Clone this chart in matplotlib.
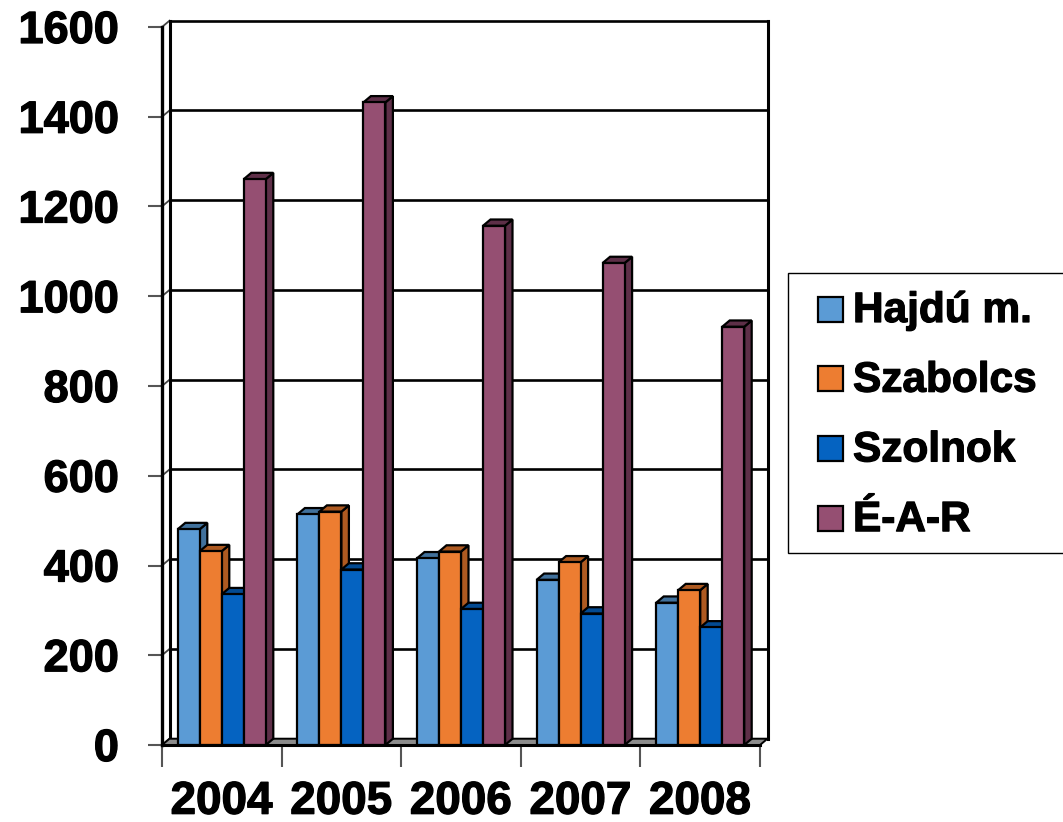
import matplotlib
matplotlib.use("Agg")
import matplotlib.pyplot as plt
import matplotlib.patheffects as pe
from matplotlib.patches import Rectangle, Polygon

plt.rcParams['font.family'] = ['Liberation Sans', 'DejaVu Sans']
plt.rcParams['font.weight'] = 'bold'

years = ['2004', '2005', '2006', '2007', '2008']
series = ['Hajdú m.', 'Szabolcs', 'Szolnok', 'É-A-R']
hajdu = [481, 514, 416, 368, 317]
szabolcs = [432, 520, 431, 407, 345]
szolnok = [336, 391, 303, 293, 262]
ear = [1261, 1432, 1157, 1074, 932]

front_colors = ['#5B9BD5', '#ED7D31', '#0563C1', '#954F72']
dark_colors = ['#41719C', '#AE5A21', '#034A91', '#5E2F48']

W, H = 1063, 822
fig = plt.figure(figsize=(W / 100, H / 100), dpi=100)
fig.patch.set_facecolor('white')

# a slight outline makes the bold labels look heavier
heavy = [pe.withStroke(linewidth=0.9, foreground='black')]

# plot area: front axis runs x 162..760 px, y 745 (0) .. 27 (1600) px
x0px, x1px, y0px, y1px = 162, 760, 745, 27
ax = fig.add_axes([x0px / W, (H - y0px) / H, (x1px - x0px) / W, (y0px - y1px) / H])
ax.set_xlim(-0.5, 4.5)
ax.set_ylim(0, 1600)
for s in ax.spines.values():
    s.set_visible(False)
ax.set_facecolor('none')

# depth offset of the fake 3d look, converted from pixels to data units
px_per_cat = (x1px - x0px) / 5
px_per_val = (y0px - y1px) / 1600
dx = 7.5 / px_per_cat
dy = 6.3 / px_per_val

vals = range(0, 1601, 200)

# back wall gridlines and edges
for v in vals:
    if v > 0:
        ax.plot([-0.5 + dx, 4.5 + dx], [v + dy, v + dy], color='black', lw=1.9,
                zorder=1, clip_on=False, solid_capstyle='butt')
    ax.plot([-0.5, -0.5 + dx], [v, v + dy], color='#444444', lw=1.3,
            zorder=1, clip_on=False)
ax.plot([-0.5 + dx, -0.5 + dx], [dy, 1600 + dy], color='black', lw=2.2, zorder=1, clip_on=False)
ax.plot([4.5 + dx, 4.5 + dx], [dy, 1600 + dy], color='black', lw=2.2, zorder=1, clip_on=False)
ax.plot([-0.5, -0.5], [0, 1600], color='black', lw=2.4, zorder=2, clip_on=False)

# floor
ax.add_patch(Polygon([(-0.5, 0), (4.5, 0), (4.5 + dx, dy), (-0.5 + dx, dy)],
                     closed=True, facecolor='#8C8C8C', edgecolor='black', lw=1.4,
                     zorder=2, clip_on=False))

# bars with front, side and top faces
w = 22 / px_per_cat
data = [hajdu, szabolcs, szolnok, ear]
for j in range(len(years)):
    for i, ser in enumerate(data):
        v = ser[j]
        xl = j - 2 * w + i * w
        xr = xl + w
        z = 3 + i
        ax.add_patch(Polygon([(xr, 0), (xr + dx, dy), (xr + dx, v + dy), (xr, v)],
                             closed=True, facecolor=dark_colors[i], edgecolor='black',
                             lw=1.6, zorder=z, clip_on=False))
        ax.add_patch(Polygon([(xl, v), (xr, v), (xr + dx, v + dy), (xl + dx, v + dy)],
                             closed=True, facecolor=dark_colors[i], edgecolor='black',
                             lw=1.6, zorder=z, clip_on=False))
        ax.add_patch(Rectangle((xl, 0), w, v, facecolor=front_colors[i],
                               edgecolor='black', lw=1.6, zorder=z, clip_on=False))

ax.plot([-0.5, 4.5], [0, 0], color='black', lw=2.2, zorder=8, clip_on=False)

# ticks and labels
ax.set_yticks(list(vals))
ax.set_yticklabels([str(v) for v in vals])
ax.tick_params(axis='y', length=10, width=1.5, color='#555555', pad=21, labelsize=32.5)
ax.set_xticks(range(len(years)))
ax.set_xticklabels(years)
ax.set_xticks([k - 0.5 for k in range(len(years) + 1)], minor=True)
ax.tick_params(axis='x', which='major', length=0, pad=25, labelsize=33)
ax.tick_params(axis='x', which='minor', length=16, width=1.5, color='#555555')
for lab in ax.get_xticklabels() + ax.get_yticklabels():
    lab.set_path_effects(heavy)

# legend, drawn in pixel coordinates
ov = fig.add_axes([0, 0, 1, 1])
ov.set_xlim(0, W)
ov.set_ylim(H, 0)
ov.axis('off')
ov.add_patch(Rectangle((788, 273), 290, 280, facecolor='white', edgecolor='black',
                       lw=1, clip_on=False))
for k, name in enumerate(series):
    cy = 309 + k * 69.7
    ov.add_patch(Rectangle((818, cy - 12.5), 25, 25, facecolor=front_colors[k],
                           edgecolor='black', lw=1.6))
    ov.text(853, cy + 13, name, fontsize=30.5, fontweight='bold', va='baseline',
            ha='left', path_effects=heavy)

fig.savefig('out.png', dpi=100)
